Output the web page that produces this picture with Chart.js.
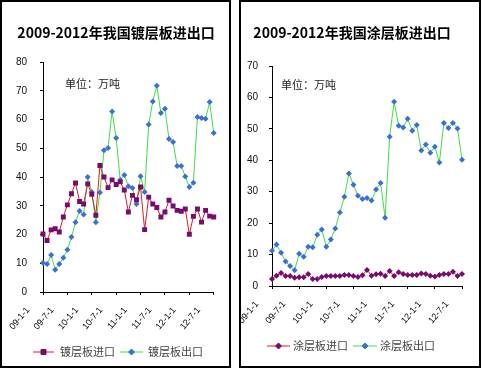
<!DOCTYPE html>
<html>
<head>
<meta charset="utf-8">
<script src="https://cdn.jsdelivr.net/npm/chart.js@4.4.1/dist/chart.umd.min.js"></script>
<style>
  html, body { margin: 0; padding: 0; background: #fff; }
  body { width: 481px; height: 370px; position: relative; overflow: hidden; }
  .panel { position: absolute; top: 0; height: 370px; }
  .frame { position: absolute; top: 0; height: 368px; border: 2px solid #000; box-sizing: border-box; pointer-events: none; }
</style>
</head>
<body>
<div class="panel" style="left:0;width:232px"><canvas id="plated"></canvas></div>
<div class="panel" style="left:240px;width:241px"><canvas id="coated"></canvas></div>
<div class="frame" style="left:0;width:231px"></div>
<div class="frame" style="left:239px;width:242px"></div>
<script>
// monthly points, Jan 2009 .. Jul 2012
const months = [];
for (let y = 2009; y <= 2012; y++) {
  for (let m = 1; m <= 12; m++) {
    if (months.length < 43) months.push(`${String(y).slice(2)}-${m}-1`);
  }
}
const tickLabels = ['09-1-1', '09-7-1', '10-1-1', '10-7-1', '11-1-1', '11-7-1', '12-1-1', '12-7-1'];

// 镀层板 (万吨)
const platedImport = [20.2, 17.9, 21.6, 22.0, 20.9, 26.1, 30.3, 34.2, 37.9, 31.5, 30.6, 37.6, 34.0, 26.7, 44.0,
  40.0, 36.3, 39.0, 37.4, 38.3, 35.5, 27.8, 33.6, 32.1, 36.5, 21.7, 33.0, 30.6, 29.4, 26.1, 27.8, 31.9, 29.9,
  28.4, 28.1, 28.9, 20.1, 26.3, 28.9, 24.3, 28.4, 26.4, 26.1];
const platedExport = [10.2, 9.7, 12.9, 7.7, 9.7, 11.9, 14.7, 19.1, 24.3, 28.2, 27.0, 40.0, 34.8, 24.3, 34.6,
  49.3, 50.1, 62.8, 53.6, 39.0, 40.7, 36.8, 36.2, 30.6, 40.3, 34.8, 58.3, 66.3, 71.7, 62.3, 63.7, 53.2, 52.2,
  43.8, 43.8, 40.2, 36.5, 38.0, 60.9, 60.5, 60.3, 66.1, 55.3];

// 涂层板 (万吨)
const coatedImport = [2.2, 3.3, 4.1, 3.2, 3.2, 2.6, 2.8, 2.8, 3.8, 2.2, 2.2, 2.9, 3.2, 3.2, 3.2, 3.2, 3.5, 3.5,
  3.2, 2.9, 3.4, 5.1, 3.3, 3.7, 3.9, 3.2, 4.8, 3.2, 4.4, 3.8, 3.5, 3.5, 3.5, 4.0, 3.8, 3.3, 3.0, 3.5, 3.8, 3.8,
  4.5, 3.2, 3.8];
const coatedExport = [11.2, 13.2, 10.6, 7.8, 6.4, 5.0, 10.3, 9.3, 12.5, 12.3, 16.3, 18.0, 12.5, 14.8, 18.3,
  23.4, 28.4, 35.8, 32.2, 28.7, 27.7, 28.0, 27.2, 30.7, 32.8, 21.7, 47.5, 58.6, 51.0, 50.4, 53.2, 49.4, 51.2,
  43.1, 45.0, 42.4, 44.3, 39.3, 51.9, 50.3, 51.9, 50.1, 40.2];

const RED = '#d81e1e';
const PURPLE = '#7a0a6e';
const GREEN = '#3ee03e';
const BLUE = '#3a6fd8';
const FONT = '"Noto Sans CJK SC", "Liberation Sans", sans-serif';

// title, unit note and the line+marker legend, drawn at fixed spots
const decor = {
  id: 'decor',
  afterDraw(chart, args, opts) {
    const ctx = chart.ctx;
    ctx.save();
    ctx.fillStyle = '#000';
    ctx.textBaseline = 'middle';
    ctx.textAlign = 'center';
    ctx.font = `bold 14px ${FONT}`;
    ctx.fillText(opts.title, opts.titleX, opts.titleY);

    ctx.textAlign = 'left';
    ctx.font = `11px ${FONT}`;
    ctx.fillStyle = '#222';
    ctx.fillText(opts.note, opts.noteX, opts.noteY);

    opts.legend.forEach((item, i) => {
      const ds = chart.data.datasets[i];
      ctx.strokeStyle = ds.borderColor;
      ctx.lineWidth = 1;
      ctx.beginPath();
      ctx.moveTo(item.x0, opts.legendY);
      ctx.lineTo(item.x1, opts.legendY);
      ctx.stroke();
      ctx.fillStyle = ds.pointBackgroundColor;
      ctx.strokeStyle = ds.pointBorderColor;
      Chart.helpers.drawPoint(ctx, {
        pointStyle: ds.pointStyle, radius: ds.pointRadius, rotation: 0, borderWidth: 1
      }, (item.x0 + item.x1) / 2, opts.legendY);
      ctx.fillStyle = '#444';
      ctx.fillText(ds.label, item.textX, opts.legendY);
    });
    ctx.restore();
  }
};

function series(label, data, lineColor, markerColor, marker) {
  return {
    label: label,
    data: data,
    borderColor: lineColor,
    borderWidth: 1,
    pointStyle: marker,
    pointRadius: marker === 'rect' ? 3.5 : 3,
    pointBackgroundColor: markerColor,
    pointBorderColor: markerColor,
    pointBorderWidth: 0,
    tension: 0,
  };
}

function makeChart(canvas, cfg) {
  return new Chart(canvas.getContext('2d'), {
    type: 'line',
    plugins: [decor],
    data: {
      labels: months,
      datasets: cfg.datasets,
    },
    options: {
      responsive: true,
      maintainAspectRatio: false,
      animation: false,
      layout: {
        padding: { top: cfg.top, right: cfg.right, bottom: cfg.bottom, left: 0 }
      },
      scales: {
        x: {
          offset: false,
          afterFit: s => { s.height = 40; },
          border: { display: true, color: '#000', width: 1 },
          grid: {
            drawOnChartArea: false,
            drawTicks: true,
            tickLength: 3,
            tickColor: ctx => ctx.index % 6 === 0 ? '#000' : 'rgba(0,0,0,0)',
          },
          ticks: {
            autoSkip: false,
            minRotation: 50,
            maxRotation: 50,
            padding: 10,
            labelOffset: -15,
            color: '#000',
            font: { family: '"Liberation Sans", sans-serif', size: 9 },
            callback: (val, i) => i % 6 === 0 ? tickLabels[i / 6] : '',
          },
        },
        y: {
          min: 0,
          max: cfg.yMax,
          afterFit: s => { s.width = cfg.axisX; },
          border: { display: true, color: '#000', width: 1 },
          grid: {
            drawOnChartArea: false,
            drawTicks: true,
            tickLength: 3,
            tickColor: '#000',
          },
          ticks: {
            stepSize: 10,
            padding: cfg.tickPad,
            color: '#111',
            font: { family: '"Liberation Sans", sans-serif', size: 10 },
          },
        },
      },
      plugins: {
        legend: { display: false },
        tooltip: { enabled: false },
        decor: cfg.decor,
      },
    },
  });
}

makeChart(document.getElementById('plated'), {
  yMax: 80,
  axisX: 43,
  tickPad: 13,
  top: 62,
  right: 14,
  bottom: 370 - 292 - 40,
  datasets: [
    series('镀层板进口', platedImport, RED, PURPLE, 'rect'),
    series('镀层板出口', platedExport, GREEN, BLUE, 'rectRot'),
  ],
  decor: {
    title: '2009-2012年我国镀层板进出口', titleX: 116, titleY: 33,
    note: '单位：万吨', noteX: 65, noteY: 84,
    legendY: 352,
    legend: [{ x0: 33, x1: 54, textX: 60 }, { x0: 120, x1: 143, textX: 148 }],
  },
});

makeChart(document.getElementById('coated'), {
  yMax: 70,
  axisX: 32,
  tickPad: 11,
  top: 66,
  right: 19,
  bottom: 370 - 286 - 40,
  datasets: [
    series('涂层板进口', coatedImport, RED, PURPLE, 'rectRot'),
    series('涂层板出口', coatedExport, GREEN, BLUE, 'rectRot'),
  ],
  decor: {
    title: '2009-2012年我国涂层板进出口', titleX: 112, titleY: 33,
    note: '单位：万吨', noteX: 41, noteY: 85,
    legendY: 346,
    legend: [{ x0: 27, x1: 50, textX: 53 }, { x0: 113, x1: 137, textX: 140 }],
  },
});
</script>
</body>
</html>
